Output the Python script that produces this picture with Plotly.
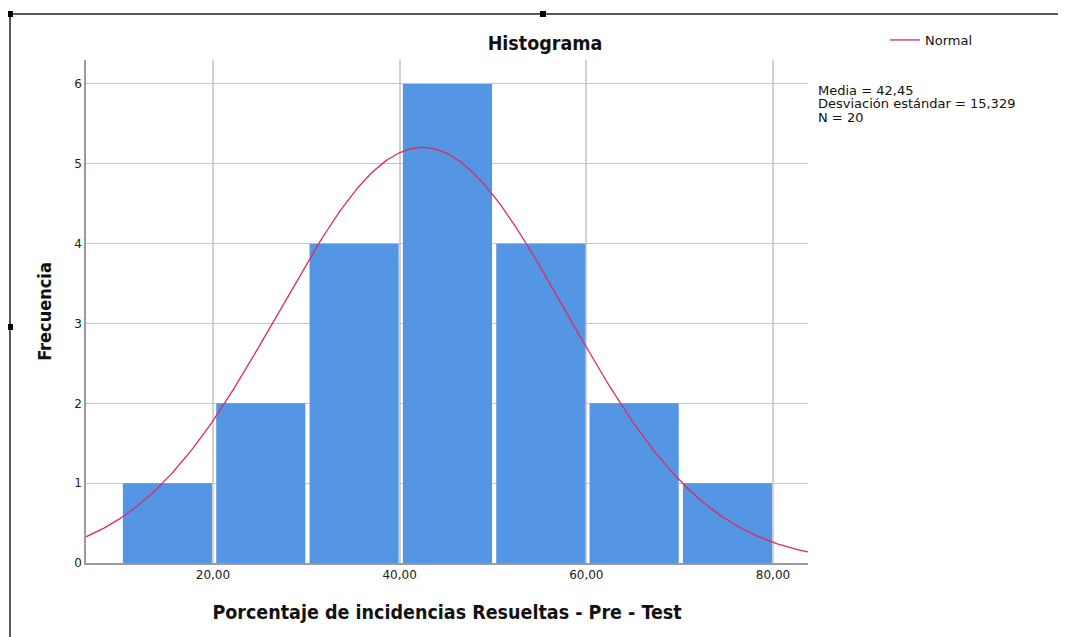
import numpy as np
import plotly.graph_objects as go

# Data
bin_starts = [10, 20, 30, 40, 50, 60, 70]
bin_width = 10
frequencies = [1, 2, 4, 6, 4, 2, 1]
mean_val = 42.45
std_val = 15.329
n_val = 20
x_ticks = [20, 40, 60, 80]
y_ticks = [0, 1, 2, 3, 4, 5, 6]
stats_lines = [
    f"Media = {str(mean_val).replace('.', ',')}",
    f"Desviación estándar = {str(std_val).replace('.', ',')}",
    f"N = {n_val}",
]

x_min, x_max = 6.4, 83.75
xs = np.linspace(x_min, x_max, 300)
ys = n_val * bin_width / (std_val * np.sqrt(2 * np.pi)) * np.exp(-((xs - mean_val) ** 2) / (2 * std_val ** 2))

# page body has an 8px margin: build the figure in reference pixels shifted by 8
OFF = 8
W, H = 1066 - OFF, 637 - OFF
PL, PR, PT, PB = 86, 808, 60, 563  # plot area in reference pixels


def px(xr):
    return (xr - PL) / (PR - PL)


def py(yr):
    return (PB - yr) / (PB - PT)


title_font = "DejaVu Sans Condensed, DejaVu Sans, sans-serif"
tick_font = "DejaVu Sans, sans-serif"

fig = go.Figure()
fig.add_trace(go.Bar(
    x=bin_starts, y=frequencies, width=bin_width * 0.955, offset=bin_width * 0.035,
    marker=dict(color="#5596e4", line=dict(width=0)),
    showlegend=False, hoverinfo="skip",
))
fig.add_trace(go.Scatter(
    x=xs, y=ys, mode="lines", name="Normal",
    line=dict(color="#dc2a5f", width=1.3),
))

fig.update_layout(
    width=W, height=H,
    margin=dict(l=PL - OFF, r=W - (PR - OFF), t=PT - OFF, b=H - (PB - OFF)),
    paper_bgcolor="white", plot_bgcolor="white",
    separators=",.",
    title=dict(text="<b>Histograma</b>", x=(545 - OFF) / W, xanchor="center",
               y=1 - (43 - OFF) / H, yanchor="middle",
               font=dict(family=title_font, size=19.5, color="#111")),
    legend=dict(x=px(885), y=py(40), xanchor="left", yanchor="middle",
                font=dict(family=tick_font, size=13, color="#111"),
                bgcolor="rgba(0,0,0,0)", itemwidth=30),
    xaxis=dict(range=[x_min, x_max], tickvals=x_ticks, tickformat=".2f",
               showgrid=True, gridcolor="#d2d2d2", gridwidth=1.8,
               showline=True, linecolor="#9a9a9a", linewidth=1.5,
               ticks="", zeroline=False,
               tickfont=dict(family=tick_font, size=12, color="#222"),
               title=dict(text="<b>Porcentaje de incidencias Resueltas - Pre - Test</b>",
                          font=dict(family=title_font, size=19.5, color="#111"), standoff=24)),
    yaxis=dict(range=[0, 6.3], tickvals=y_ticks,
               showgrid=True, gridcolor="#c4c4c4", gridwidth=1.2,
               showline=True, linecolor="#9a9a9a", linewidth=1.5,
               ticks="", zeroline=False,
               tickfont=dict(family=tick_font, size=12, color="#222"),
               title=dict(text="<b>Frecuencia</b>",
                          font=dict(family=title_font, size=18, color="#111"), standoff=18)),
)

for i, line in enumerate(stats_lines):
    fig.add_annotation(
        x=px(816), y=py(90 + 13.5 * i), xref="paper", yref="paper",
        xanchor="left", yanchor="middle", align="left", showarrow=False,
        text=line, font=dict(family=tick_font, size=13, color="#111"),
    )

# Document frame lines and selection handles around the image
fig.add_shape(type="line", xref="paper", yref="paper", x0=px(10), x1=px(1070),
              y0=py(14), y1=py(14), line=dict(color="#222", width=1.5))
fig.add_shape(type="line", xref="paper", yref="paper", x0=px(10), x1=px(10),
              y0=py(14), y1=py(645), line=dict(color="#222", width=1.5))
for hx, hy in [(10, 14), (543, 14), (10, 327)]:
    fig.add_shape(type="rect", xref="paper", yref="paper",
                  x0=px(hx - 3), x1=px(hx + 3),
                  y0=py(hy + 3), y1=py(hy - 3),
                  fillcolor="black", line=dict(width=0))

fig.write_html("out.html")
